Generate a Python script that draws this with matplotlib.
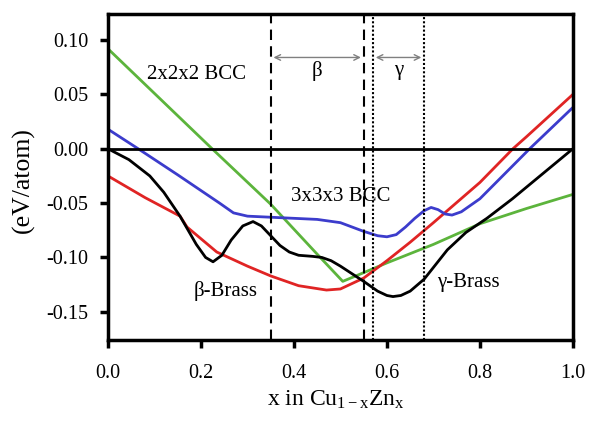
import matplotlib
matplotlib.use("Agg")
import matplotlib.pyplot as plt

plt.rcParams['font.family'] = ['Liberation Serif', 'DejaVu Serif']
plt.rcParams['mathtext.fontset'] = 'custom'
plt.rcParams['mathtext.rm'] = 'Liberation Serif'
plt.rcParams['mathtext.it'] = 'Liberation Serif'

# values
green_x = [0.0, 0.224, 0.35, 0.45, 0.505, 0.55, 0.6, 0.7, 0.8, 0.9, 1.0]
green_y = [0.092, 0.0, -0.051, -0.097, -0.122, -0.114, -0.105, -0.088, -0.069, -0.055, -0.042]

red_x = [0.0, 0.08, 0.155, 0.17, 0.234, 0.3, 0.35, 0.41, 0.47, 0.5, 0.55, 0.6, 0.65, 0.7, 0.8, 0.871, 0.9, 1.0]
red_y = [-0.025, -0.045, -0.062, -0.072, -0.095, -0.108, -0.117, -0.126, -0.130, -0.129, -0.119, -0.103, -0.086, -0.068, -0.031, 0.0, 0.011, 0.05]

blue_x = [0.0, 0.065, 0.15, 0.24, 0.27, 0.3, 0.35, 0.45, 0.5, 0.55, 0.58, 0.6, 0.62, 0.64, 0.66, 0.68, 0.695, 0.71, 0.725, 0.74, 0.76, 0.8, 0.907, 1.0]
blue_y = [0.018, 0.0, -0.024, -0.050, -0.059, -0.062, -0.063, -0.065, -0.068, -0.076, -0.080, -0.081, -0.079, -0.072, -0.064, -0.057, -0.054, -0.056, -0.060, -0.061, -0.058, -0.046, 0.0, 0.038]

black_x = [0.0, 0.045, 0.09, 0.12, 0.155, 0.19, 0.21, 0.226, 0.245, 0.265, 0.29, 0.312, 0.33, 0.35, 0.37, 0.39, 0.41, 0.44, 0.46, 0.48, 0.5, 0.55, 0.58, 0.6, 0.613, 0.63, 0.65, 0.68, 0.73, 0.77, 0.815, 0.87, 1.0]
black_y = [0.0, -0.010, -0.025, -0.040, -0.062, -0.088, -0.100, -0.104, -0.098, -0.084, -0.071, -0.067, -0.071, -0.080, -0.089, -0.095, -0.098, -0.099, -0.100, -0.103, -0.108, -0.122, -0.131, -0.135, -0.136, -0.135, -0.131, -0.120, -0.093, -0.077, -0.064, -0.046, 0.0]

dashed_lines = [0.35, 0.55]
dotted_lines = [0.57, 0.68]

fig = plt.figure(figsize=(5.9, 4.24), dpi=100)
ax = fig.add_axes([0.183, 0.198, 0.788, 0.769])

ax.plot(green_x, green_y, color='#5cb43c', lw=2)
ax.plot(red_x, red_y, color='#e02424', lw=2)
ax.plot(blue_x, blue_y, color='#3c3ccc', lw=2)
ax.plot(black_x, black_y, color='black', lw=2)

ax.axhline(0, color='black', lw=2)
for v in dashed_lines:
    ax.axvline(v, color='black', lw=1.5, ls=(0, (5, 3)))
for v in dotted_lines:
    ax.axvline(v, color='black', lw=1.5, ls=(0, (1, 1)))

# phase arrows
ax.annotate('', xy=(0.35, 0.084), xytext=(0.55, 0.084),
            arrowprops=dict(arrowstyle='<->', color='gray', lw=1))
ax.annotate('', xy=(0.57, 0.084), xytext=(0.68, 0.084),
            arrowprops=dict(arrowstyle='<->', color='gray', lw=1))
ax.text(0.45, 0.072, 'β', ha='center', va='center', fontsize=15)
ax.text(0.625, 0.072, 'γ', ha='center', va='center', fontsize=15)

ax.text(0.19, 0.068, '2x2x2 BCC', ha='center', va='center', fontsize=15)
ax.text(0.50, -0.044, '3x3x3 BCC', ha='center', va='center', fontsize=15)
ax.text(0.252, -0.131, 'β-Brass', ha='center', va='center', fontsize=15)
ax.text(0.775, -0.123, 'γ-Brass', ha='center', va='center', fontsize=15)

ax.set_xlim(0, 1.0)
ax.set_ylim(-0.176, 0.124)
ax.set_xticks([0.0, 0.2, 0.4, 0.6, 0.8, 1.0])
ax.set_yticks([-0.15, -0.10, -0.05, 0.0, 0.05, 0.10])
ax.set_yticklabels(['-0.15', '-0.10', '-0.05', '0.00', '0.05', '0.10'])
ax.tick_params(direction='out', width=2.5, length=6, labelsize=14.5)
ax.tick_params(axis='x', pad=11)
ax.tick_params(axis='y', pad=8)
for s in ax.spines.values():
    s.set_linewidth(2.5)

ax.set_xlabel('x in Cu$_{1-x}$Zn$_x$', fontsize=17)
ax.xaxis.set_label_coords(0.49, -0.15)
ax.set_ylabel('(eV/atom)', fontsize=18.5)
ax.yaxis.set_label_coords(-0.158, 0.49)

fig.savefig('out.png', dpi=100)
